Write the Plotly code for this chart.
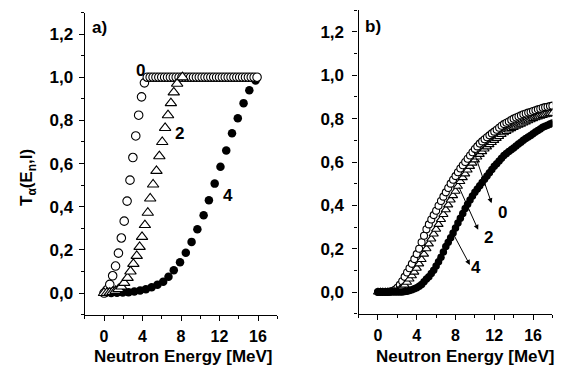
import numpy as np
import plotly.graph_objects as go

# ---------------- data: panel a ----------------
a0_x = np.round(np.arange(0, 15.95, 0.3), 2)
a0_y = [0.0, 0.015, 0.04, 0.08, 0.125, 0.185, 0.255, 0.333, 0.426, 0.523,
        0.628, 0.728, 0.824, 0.909, 0.974,
        1.0, 1.0, 1.0, 1.0, 1.0, 1.0, 1.0, 1.0, 1.0, 1.0,
        1.0, 1.0, 1.0, 1.0, 1.0, 1.0, 1.0, 1.0, 1.0, 1.0,
        1.0, 1.0, 1.0, 1.0, 1.0, 1.0, 1.0, 1.0, 1.0, 1.0,
        1.0, 1.0, 1.0, 1.0, 1.0, 1.0, 1.0, 1.0, 1.0]

a2_x = [0.0, 0.3, 0.6, 0.9, 1.2, 1.5, 1.8, 2.1, 2.45, 2.75, 3.05, 3.4, 3.7,
        3.95, 4.25, 4.55, 4.8, 5.1, 5.45, 5.75, 6.05, 6.35, 6.65, 6.95, 7.25,
        7.6, 8.15]
a2_y = [0.0, 0.0, 0.002, 0.005, 0.01, 0.018, 0.03, 0.047, 0.07, 0.1, 0.135,
        0.172, 0.214, 0.26, 0.315, 0.372, 0.438, 0.503, 0.566, 0.634, 0.70,
        0.765, 0.824, 0.88, 0.93, 0.97, 1.0]

a4_x = [0.15, 0.75, 1.35, 1.95, 2.55, 3.15, 3.75, 4.35, 4.95, 5.55, 6.15,
        6.7, 7.25, 7.9, 8.5, 9.1, 9.7, 10.35, 10.9, 11.5, 12.1, 12.7, 13.3,
        13.9, 14.5, 15.1, 15.75]
a4_y = [0.0, 0.0, 0.001, 0.002, 0.004, 0.007, 0.012, 0.018, 0.027, 0.038,
        0.052, 0.075, 0.106, 0.143, 0.187, 0.237, 0.295, 0.36, 0.43, 0.507,
        0.585, 0.66, 0.74, 0.81, 0.88, 0.94, 0.985]

# ---------------- data: panel b ----------------
b_x = np.round(np.arange(0, 18.01, 0.25), 2)
b0_y = [0, 0, 0, 0, 0, 0.002, 0.005, 0.01, 0.02, 0.033, 0.05, 0.07, 0.09,
        0.11, 0.13, 0.152, 0.175, 0.20, 0.23, 0.26, 0.29, 0.312, 0.335, 0.355,
        0.375, 0.398, 0.42, 0.44, 0.46, 0.48, 0.50, 0.518, 0.535, 0.553, 0.57,
        0.585, 0.60, 0.615, 0.63, 0.645, 0.66, 0.672, 0.685, 0.695, 0.705,
        0.714, 0.723, 0.732, 0.74, 0.749, 0.758, 0.767, 0.775, 0.781, 0.787,
        0.794, 0.80, 0.805, 0.81, 0.815, 0.82, 0.824, 0.828, 0.831, 0.835,
        0.839, 0.843, 0.846, 0.85, 0.853, 0.855, 0.858, 0.86]
b2_y = [0, 0, 0, 0, 0, 0, 0, 0.002, 0.005, 0.012, 0.02, 0.032, 0.045, 0.06,
        0.075, 0.092, 0.11, 0.13, 0.15, 0.175, 0.20, 0.222, 0.245, 0.268,
        0.29, 0.312, 0.335, 0.358, 0.38, 0.402, 0.425, 0.445, 0.465, 0.488,
        0.51, 0.528, 0.545, 0.563, 0.58, 0.595, 0.61, 0.623, 0.635, 0.648,
        0.66, 0.67, 0.68, 0.69, 0.70, 0.709, 0.718, 0.727, 0.735, 0.741,
        0.748, 0.754, 0.76, 0.765, 0.77, 0.775, 0.78, 0.785, 0.79, 0.795,
        0.80, 0.804, 0.808, 0.811, 0.815, 0.818, 0.82, 0.823, 0.825]
b4_y = [0, 0, 0, 0, 0, 0, 0, 0, 0, 0, 0, 0.002, 0.004, 0.007, 0.01, 0.015,
        0.02, 0.027, 0.035, 0.047, 0.06, 0.07, 0.085, 0.10, 0.12, 0.14, 0.16,
        0.185, 0.21, 0.23, 0.25, 0.272, 0.295, 0.318, 0.34, 0.362, 0.385,
        0.405, 0.425, 0.443, 0.46, 0.475, 0.49, 0.505, 0.52, 0.535, 0.55,
        0.565, 0.58, 0.592, 0.605, 0.617, 0.63, 0.639, 0.648, 0.656, 0.665,
        0.674, 0.683, 0.691, 0.70, 0.708, 0.715, 0.722, 0.73, 0.738, 0.745,
        0.752, 0.76, 0.765, 0.77, 0.775, 0.78]

y_ticks = [0.0, 0.2, 0.4, 0.6, 0.8, 1.0, 1.2]
x_ticks = [0, 4, 8, 12, 16]

FONT = "Liberation Sans, Arial, sans-serif"
W, H = 563, 367

fig = go.Figure()

def open_marker(sym, size):
    return dict(symbol=sym, size=size, color="white",
                line=dict(color="black", width=1.1))

def full_marker(size):
    return dict(symbol="circle", size=size, color="black",
                line=dict(color="black", width=0))

# panel a
fig.add_trace(go.Scatter(x=a4_x, y=a4_y, mode="markers", marker=full_marker(8.5),
                         xaxis="x", yaxis="y", showlegend=False))
fig.add_trace(go.Scatter(x=a0_x, y=a0_y, mode="markers", marker=open_marker("circle", 8.5),
                         xaxis="x", yaxis="y", showlegend=False))
fig.add_trace(go.Scatter(x=a2_x, y=a2_y, mode="markers", marker=open_marker("triangle-up", 10),
                         xaxis="x", yaxis="y", showlegend=False))
# panel b
fig.add_trace(go.Scatter(x=b_x, y=b0_y, mode="markers", marker=open_marker("circle", 7),
                         xaxis="x2", yaxis="y2", showlegend=False))
fig.add_trace(go.Scatter(x=b_x, y=b2_y, mode="markers", marker=open_marker("triangle-up", 8),
                         xaxis="x2", yaxis="y2", showlegend=False))
fig.add_trace(go.Scatter(x=b_x, y=b4_y, mode="markers", marker=full_marker(7.5),
                         xaxis="x2", yaxis="y2", showlegend=False))

def xax(domain, anchor):
    return dict(domain=domain, anchor=anchor, range=[-2, 18],
                tickvals=x_ticks, ticks="outside", ticklen=5, tickwidth=1.3,
                tickcolor="black", showline=True, linecolor="black", linewidth=1.3,
                showgrid=False, zeroline=False, ticklabelstandoff=2,
                tickfont=dict(family=FONT, size=16, color="black", weight="bold"),
                minor=dict(tickvals=[-2, 2, 6, 10, 14, 18], ticks="outside",
                           ticklen=3, tickwidth=1.3, tickcolor="black"))

def yax(domain, anchor, standoff):
    return dict(domain=domain, anchor=anchor, range=[-0.1, 1.3],
                tickvals=y_ticks, tickformat=".1f", ticks="outside", ticklen=5,
                tickwidth=1.3, tickcolor="black", showline=True, linecolor="black",
                linewidth=1.3, showgrid=False, zeroline=False,
                ticklabelstandoff=standoff,
                tickfont=dict(family=FONT, size=17, color="black", weight="bold"),
                minor=dict(tickvals=[-0.1, 0.1, 0.3, 0.5, 0.7, 0.9, 1.1, 1.3],
                           ticks="outside", ticklen=3, tickwidth=1.3, tickcolor="black"))

fig.update_layout(
    width=W, height=H, margin=dict(l=0, r=0, t=0, b=0),
    paper_bgcolor="white", plot_bgcolor="white",
    separators=", ",
    xaxis=xax([84.75 / W, 277.25 / W], "y"),
    yaxis=yax([1 - 314.6 / H, 1 - 12.5 / H], "x", 2),
    xaxis2=xax([358.6 / W, 552.4 / W], "y2"),
    yaxis2=yax([1 - 313.7 / H, 1 - 10.3 / H], "x2", 5),
)

ann = []
def txt(x, y, s, xref, yref, size=17, **kw):
    ann.append(dict(x=x, y=y, xref=xref, yref=yref, text=s, showarrow=False,
                    font=dict(family=FONT, size=size, color="black", weight="bold"),
                    xanchor="center", yanchor="middle", **kw))

# panel labels and curve labels
txt(-0.47, 1.23, "a)", "x", "y")
txt(3.83, 1.03, "0", "x", "y")
txt(7.82, 0.738, "2", "x", "y")
txt(12.85, 0.454, "4", "x", "y")
txt(-0.5, 1.227, "b)", "x2", "y2")
txt(12.84, 0.368, "0", "x2", "y2")
txt(11.44, 0.25, "2", "x2", "y2")
txt(10.1, 0.113, "4", "x2", "y2")

# arrows in panel b (tail on curve, head near label)
for (tx, ty, hx, hy) in [(9.83, 0.657, 11.72, 0.41),
                         (8.3, 0.49, 10.34, 0.287),
                         (7.75, 0.27, 9.48, 0.125)]:
    ann.append(dict(x=hx, y=hy, xref="x2", yref="y2", ax=tx, ay=ty,
                    axref="x2", ayref="y2", text="", showarrow=True,
                    arrowhead=2, arrowsize=1, arrowwidth=1, arrowcolor="black"))

# axis titles
txt(183.5 / W, 1 - 356.5 / H, "Neutron Energy [MeV]", "paper", "paper", size=17)
txt(465 / W, 1 - 356.5 / H, "Neutron Energy [MeV]", "paper", "paper", size=17)
txt(28 / W, 1 - 178 / H, "T<sub>α</sub>(E<sub>n</sub>,l)", "paper", "paper",
    size=17, textangle=-90)

fig.update_layout(annotations=ann)
fig.write_html("out.html")
